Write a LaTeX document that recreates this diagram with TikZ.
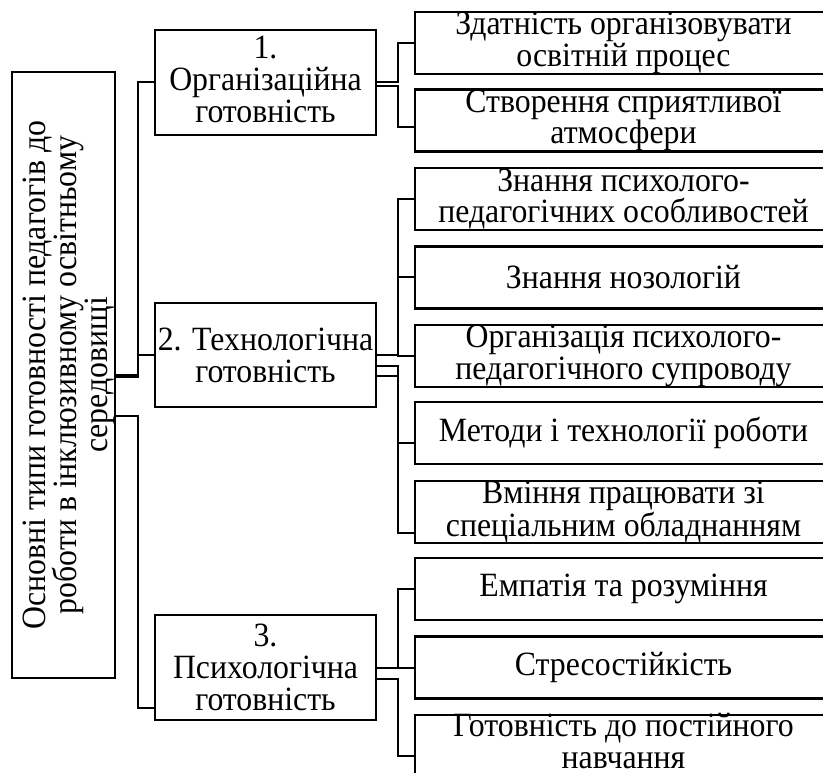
\documentclass[tikz,border=0pt]{standalone}
\usepackage{fontspec}
\setmainfont{Liberation Serif}[FakeStretch=0.935]
\usetikzlibrary{calc}
\begin{document}
\begin{tikzpicture}[x=1pt,y=-1pt,
  txt/.style={align=center, inner sep=0pt, font=\fontsize{34}{31.5}\selectfont},
  box/.style={txt, draw, line width=2.2pt, outer sep=0pt},
  lbox/.style={box, minimum width=221pt, minimum height=105pt, font=\fontsize{34}{32}\selectfont},
  rbox/.style={box, minimum width=417pt, minimum height=62pt},
  conn/.style={line width=2pt}]
\useasboundingbox (0,0) rectangle (823,773);
\clip (0,0) rectangle (823,773);
\fill[white] (0,0) rectangle (823,773);

\node[box, minimum width=103pt, minimum height=606pt] (M) at (63.5,375) {};
\node[txt, rotate=90, font=\fontsize{34}{31}\selectfont] (Mt) at ($(M.center)+(5,0)$) {Основні типи готовності педагогів до\\роботи в інклюзивному освітньому\\середовищі};

\node[lbox] (b1) at (265.5,82.5) {};
\node[txt, font=\fontsize{34}{32}\selectfont] (b1t) at ($(b1.center)+(0,-3)$) {1.\\Організаційна\\готовність};
\node[lbox, minimum height=104pt] (b2) at (265.5,355) {2. Технологічна\\готовність};
\node[lbox] (b3) at (265.5,667.5) {3.\\Психологічна\\готовність};

\node[rbox] (r1) at (623.5,43) {Здатність організовувати\\освітній процес};
\node[rbox] (r2) at (623.5,120.5) {Створення сприятливої\\атмосфери};
\node[rbox] (r3) at (623.5,199) {Знання психолого-\\педагогічних особливостей};
\node[rbox] (r4) at (623.5,277.5) {Знання нозологій};
\node[rbox] (r5) at (623.5,356) {Організація психолого-\\педагогічного супроводу};
\node[rbox] (r6) at (623.5,433) {Методи і технології роботи};
\node[rbox] (r7) at (623.5,512) {Вміння працювати зі\\спеціальним обладнанням};
\node[rbox] (r8) at (623.5,589) {Емпатія та розуміння};
\node[rbox] (r9) at (623.5,667.5) {Стресостійкість};
\node[rbox] (r10) at (623.5,746) {};
\node[txt] (r10t) at ($(r10.center)+(0,-5)$) {Готовність до постійного\\навчання};

\draw[conn] (M.east) -- ++(23,0) |- (b1.west);
\draw[conn] ($(M.east)+(0,2)$) -- ++(23,0) |- (b2.west);
\draw[conn] ($(M.east)+(0,41)$) -- ++(23,0) |- ($(b3.west)+(0,40.5)$);

\draw[conn] (b1.east) -- ++(22,0) |- (r1.west);
\draw[conn] ($(b1.east)+(0,3.5)$) -- ++(22,0) |- ($(r2.west)+(0,6.5)$);

\draw[conn] (b2.east) -- ++(22,0) |- (r3.west);
\draw[conn] (b2.east) -- ++(22,0) |- (r4.west);
\draw[conn] (b2.east) -- ++(22,0) |- (r5.west);
\draw[conn] ($(b2.east)+(0,11)$) -- ++(22,0) |- ($(r6.west)+(0,10)$);
\draw[conn] ($(b2.east)+(0,21)$) -- ++(22,0) |- ($(r7.west)+(0,21)$);

\draw[conn] (b3.east) -- ++(22,0) |- (r8.west);
\draw[conn] (b3.east) -- ++(22,0) |- (r9.west);
\draw[conn] ($(b3.east)+(0,11.5)$) -- ++(22,0) |- ($(r10.west)+(0,10)$);
\end{tikzpicture}
\end{document}
